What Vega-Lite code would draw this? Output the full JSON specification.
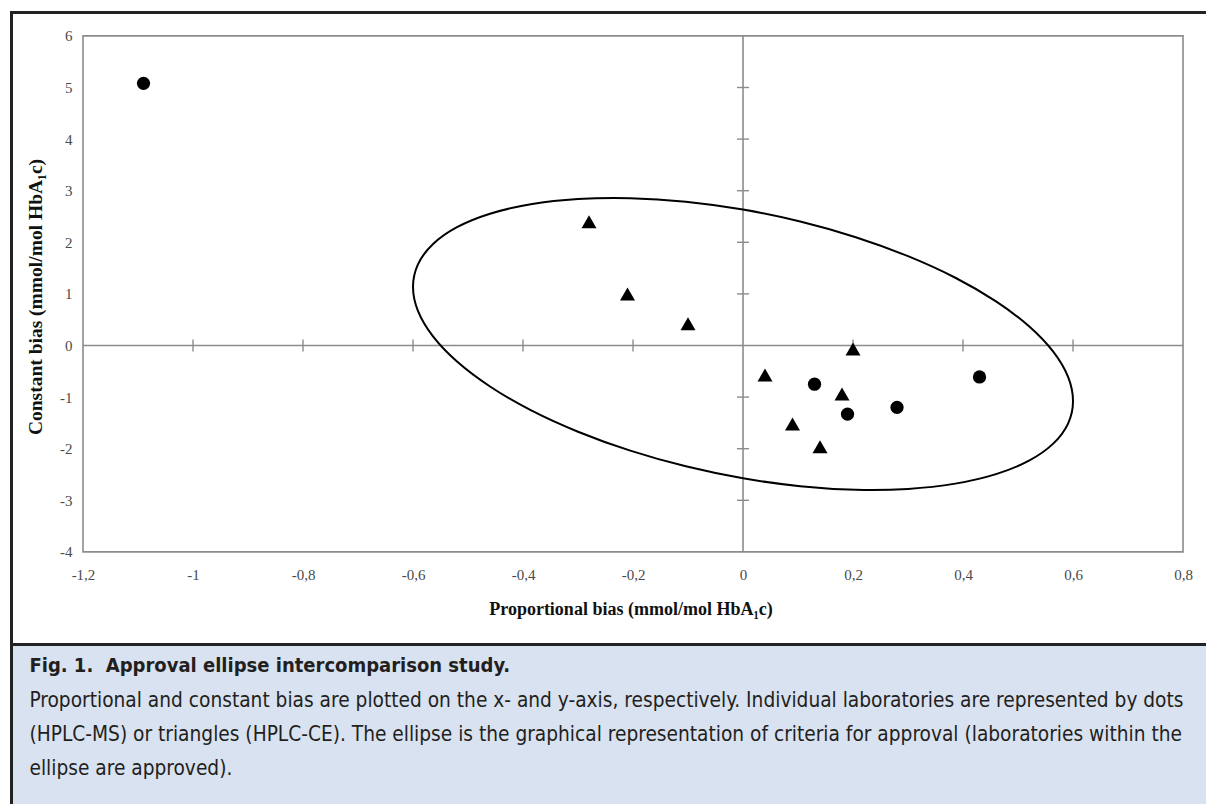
{
  "$schema": "https://vega.github.io/schema/vega-lite/v6.json",
  "background": "white",
  "padding": {"left": 8.5, "top": 9.5, "right": 0, "bottom": 0},
  "autosize": {"type": "pad"},
  "bounds": "flush",
  "spacing": 0,
  "config": {
    "view": {"stroke": null},
    "locale": {"number": {"decimal": ",", "thousands": ".", "grouping": [3], "currency": ["", " €"], "minus": "-"}},
    "axis": {
      "grid": false, "ticks": false, "domain": false,
      "labelFont": "Liberation Serif", "labelFontSize": 15, "labelColor": "#4a4a4a",
      "labelFlush": false, "labelOverlap": false,
      "titleFont": "Liberation Serif", "titleFontWeight": "bold", "titleColor": "#111111"
    },
    "axisX": {"offset": -92.6, "labelPadding": 16, "titlePadding": 18, "titleFontSize": 18},
    "axisY": {"offset": -71.5, "labelPadding": 11, "titlePadding": 14, "titleFontSize": 19.5}
  },
  "datasets": {
    "one": [{}],
    "points": [
      {"method": "HPLC-MS", "pb": -1.09, "cb": 5.08},
      {"method": "HPLC-MS", "pb": 0.13, "cb": -0.75},
      {"method": "HPLC-MS", "pb": 0.19, "cb": -1.33},
      {"method": "HPLC-MS", "pb": 0.28, "cb": -1.2},
      {"method": "HPLC-MS", "pb": 0.43, "cb": -0.61},
      {"method": "HPLC-CE", "pb": -0.28, "cb": 2.4},
      {"method": "HPLC-CE", "pb": -0.21, "cb": 1.0},
      {"method": "HPLC-CE", "pb": -0.1, "cb": 0.42},
      {"method": "HPLC-CE", "pb": 0.04, "cb": -0.57},
      {"method": "HPLC-CE", "pb": 0.09, "cb": -1.52},
      {"method": "HPLC-CE", "pb": 0.14, "cb": -1.96},
      {"method": "HPLC-CE", "pb": 0.18, "cb": -0.94},
      {"method": "HPLC-CE", "pb": 0.2, "cb": -0.07}
    ],
    "ellipse": [
      {"i": 0, "ex": 0.6, "ey": -1.078},
      {"i": 1, "ex": 0.591, "ey": -0.609},
      {"i": 2, "ex": 0.564, "ey": -0.12},
      {"i": 3, "ex": 0.52, "ey": 0.372},
      {"i": 4, "ex": 0.46, "ey": 0.855},
      {"i": 5, "ex": 0.386, "ey": 1.313},
      {"i": 6, "ex": 0.3, "ey": 1.731},
      {"i": 7, "ex": 0.205, "ey": 2.098},
      {"i": 8, "ex": 0.104, "ey": 2.402},
      {"i": 9, "ex": 0.0, "ey": 2.634},
      {"i": 10, "ex": -0.104, "ey": 2.786},
      {"i": 11, "ex": -0.205, "ey": 2.856},
      {"i": 12, "ex": -0.3, "ey": 2.839},
      {"i": 13, "ex": -0.386, "ey": 2.737},
      {"i": 14, "ex": -0.46, "ey": 2.553},
      {"i": 15, "ex": -0.52, "ey": 2.292},
      {"i": 16, "ex": -0.564, "ey": 1.962},
      {"i": 17, "ex": -0.591, "ey": 1.573},
      {"i": 18, "ex": -0.6, "ey": 1.138},
      {"i": 19, "ex": -0.591, "ey": 0.669},
      {"i": 20, "ex": -0.564, "ey": 0.18},
      {"i": 21, "ex": -0.52, "ey": -0.312},
      {"i": 22, "ex": -0.46, "ey": -0.795},
      {"i": 23, "ex": -0.386, "ey": -1.253},
      {"i": 24, "ex": -0.3, "ey": -1.671},
      {"i": 25, "ex": -0.205, "ey": -2.038},
      {"i": 26, "ex": -0.104, "ey": -2.342},
      {"i": 27, "ex": 0.0, "ey": -2.574},
      {"i": 28, "ex": 0.104, "ey": -2.726},
      {"i": 29, "ex": 0.205, "ey": -2.796},
      {"i": 30, "ex": 0.3, "ey": -2.779},
      {"i": 31, "ex": 0.386, "ey": -2.677},
      {"i": 32, "ex": 0.46, "ey": -2.493},
      {"i": 33, "ex": 0.52, "ey": -2.232},
      {"i": 34, "ex": 0.564, "ey": -1.902},
      {"i": 35, "ex": 0.591, "ey": -1.513}
    ],
    "xticks": [
      {"t": -1.0}, {"t": -0.8}, {"t": -0.6}, {"t": -0.4}, {"t": -0.2},
      {"t": 0.2}, {"t": 0.4}, {"t": 0.6}
    ],
    "yticks": [
      {"t": -3}, {"t": -2}, {"t": -1}, {"t": 1}, {"t": 2}, {"t": 3}, {"t": 4}, {"t": 5}
    ],
    "capTitle": [
      {"line": 0, "text": "Fig. 1.\u00a0 Approval ellipse intercomparison study."}
    ],
    "capBody": [
      {"line": 1, "text": "Proportional and constant bias are plotted on the x- and y-axis, respectively. Individual laboratories are represented by dots"},
      {"line": 2, "text": "(HPLC-MS) or triangles (HPLC-CE). The ellipse is the graphical representation of criteria for approval (laboratories within the"},
      {"line": 3, "text": "ellipse are approved)."}
    ]
  },
  "vconcat": [
    {
      "width": 1196,
      "height": 632,
      "view": {"stroke": null},
      "layer": [
        {
          "data": {"name": "xticks"},
          "mark": {"type": "rule", "color": "#8c8c8c", "strokeWidth": 1.4},
          "encoding": {
            "x": {
              "field": "t", "type": "quantitative",
              "title": "Proportional bias (mmol/mol HbA₁c)",
              "scale": {"domain": [-1.33, 0.8445], "nice": false, "zero": false},
              "axis": {
                "values": [-1.2, -1, -0.8, -0.6, -0.4, -0.2, 0, 0.2, 0.4, 0.6, 0.8],
                "format": "~g",
                "titleX": 619
              }
            },
            "y": {"datum": -0.115, "type": "quantitative",
                  "scale": {"domain": [-5.7946, 6.4535], "nice": false, "zero": false}},
            "y2": {"datum": 0.115}
          }
        },
        {
          "data": {"name": "yticks"},
          "mark": {"type": "rule", "color": "#8c8c8c", "strokeWidth": 1.4},
          "encoding": {
            "y": {
              "field": "t", "type": "quantitative",
              "title": "Constant bias (mmol/mol HbA₁c)",
              "axis": {
                "values": [-4, -3, -2, -1, 0, 1, 2, 3, 4, 5, 6],
                "format": "~g",
                "titleY": 284
              }
            },
            "x": {"datum": -0.011, "type": "quantitative"},
            "x2": {"datum": 0.011}
          }
        },
        {
          "data": {"name": "one"},
          "mark": {"type": "rect", "fillOpacity": 0, "stroke": "#8c8c8c", "strokeWidth": 1.6},
          "encoding": {
            "x": {"datum": -1.2, "type": "quantitative"},
            "x2": {"datum": 0.8},
            "y": {"datum": -4, "type": "quantitative"},
            "y2": {"datum": 6}
          }
        },
        {
          "data": {"name": "one"},
          "mark": {"type": "rule", "color": "#8c8c8c", "strokeWidth": 1.6},
          "encoding": {
            "x": {"datum": 0, "type": "quantitative"},
            "y": {"datum": -4, "type": "quantitative"},
            "y2": {"datum": 6}
          }
        },
        {
          "data": {"name": "one"},
          "mark": {"type": "rule", "color": "#8c8c8c", "strokeWidth": 1.6},
          "encoding": {
            "y": {"datum": 0, "type": "quantitative"},
            "x": {"datum": -1.2, "type": "quantitative"},
            "x2": {"datum": 0.8}
          }
        },
        {
          "data": {"name": "ellipse"},
          "mark": {"type": "line", "color": "#000000", "strokeWidth": 2, "interpolate": "cardinal-closed"},
          "encoding": {
            "x": {"field": "ex", "type": "quantitative", "title": "Proportional bias (mmol/mol HbA₁c)"},
            "y": {"field": "ey", "type": "quantitative", "title": "Constant bias (mmol/mol HbA₁c)"},
            "order": {"field": "i", "type": "quantitative"}
          }
        },
        {
          "data": {"name": "points"},
          "mark": {"type": "point", "filled": true, "opacity": 1, "color": "#000000"},
          "encoding": {
            "x": {"field": "pb", "type": "quantitative", "title": "Proportional bias (mmol/mol HbA₁c)"},
            "y": {"field": "cb", "type": "quantitative", "title": "Constant bias (mmol/mol HbA₁c)"},
            "shape": {
              "field": "method", "type": "nominal",
              "scale": {"domain": ["HPLC-MS", "HPLC-CE"], "range": ["circle", "triangle-up"]},
              "legend": null
            },
            "size": {
              "field": "method", "type": "nominal",
              "scale": {"domain": ["HPLC-MS", "HPLC-CE"], "range": [175, 225]},
              "legend": null
            }
          }
        },
        {
          "data": {"name": "one"},
          "mark": {"type": "rule", "color": "#222222", "strokeWidth": 3},
          "encoding": {
            "y": {"datum": 6.4535, "type": "quantitative"},
            "x": {"datum": -1.33, "type": "quantitative"},
            "x2": {"datum": 0.8445}
          }
        },
        {
          "data": {"name": "one"},
          "mark": {"type": "rule", "color": "#222222", "strokeWidth": 3, "strokeCap": "square"},
          "encoding": {
            "x": {"datum": -1.33, "type": "quantitative"},
            "y": {"datum": -5.7946, "type": "quantitative"},
            "y2": {"datum": 6.4535}
          }
        }
      ]
    },
    {
      "width": 1196,
      "height": 161,
      "view": {"stroke": null, "fill": "#d9e2f0"},
      "layer": [
        {
          "data": {"name": "one"},
          "mark": {"type": "rule", "color": "#222222", "strokeWidth": 3},
          "encoding": {
            "y": {"datum": -0.647, "type": "quantitative", "axis": null,
                  "scale": {"domain": [-0.647, 4.088], "reverse": true, "nice": false, "zero": false}},
            "x": {"datum": -0.015, "type": "quantitative", "axis": null,
                  "scale": {"domain": [-0.015, 0.985], "nice": false, "zero": false}},
            "x2": {"datum": 0.985}
          }
        },
        {
          "data": {"name": "one"},
          "mark": {"type": "rule", "color": "#222222", "strokeWidth": 3},
          "encoding": {
            "x": {"datum": -0.015, "type": "quantitative", "axis": null},
            "y": {"datum": -0.647, "type": "quantitative", "axis": null},
            "y2": {"datum": 4.088}
          }
        },
        {
          "data": {"name": "capTitle"},
          "mark": {"type": "text", "align": "left", "baseline": "middle", "font": "DejaVu Sans Condensed, DejaVu Sans, sans-serif", "fontSize": 20, "fontWeight": "bold", "color": "#231f20"},
          "encoding": {
            "x": {"datum": 0, "type": "quantitative", "axis": null},
            "y": {"field": "line", "type": "quantitative", "axis": null},
            "text": {"field": "text"}
          }
        },
        {
          "data": {"name": "capBody"},
          "mark": {"type": "text", "align": "left", "baseline": "middle", "font": "DejaVu Sans Condensed, DejaVu Sans, sans-serif", "fontSize": 20.7, "color": "#231f20"},
          "encoding": {
            "x": {"datum": 0, "type": "quantitative", "axis": null},
            "y": {"field": "line", "type": "quantitative", "axis": null},
            "text": {"field": "text"}
          }
        }
      ]
    }
  ]
}
